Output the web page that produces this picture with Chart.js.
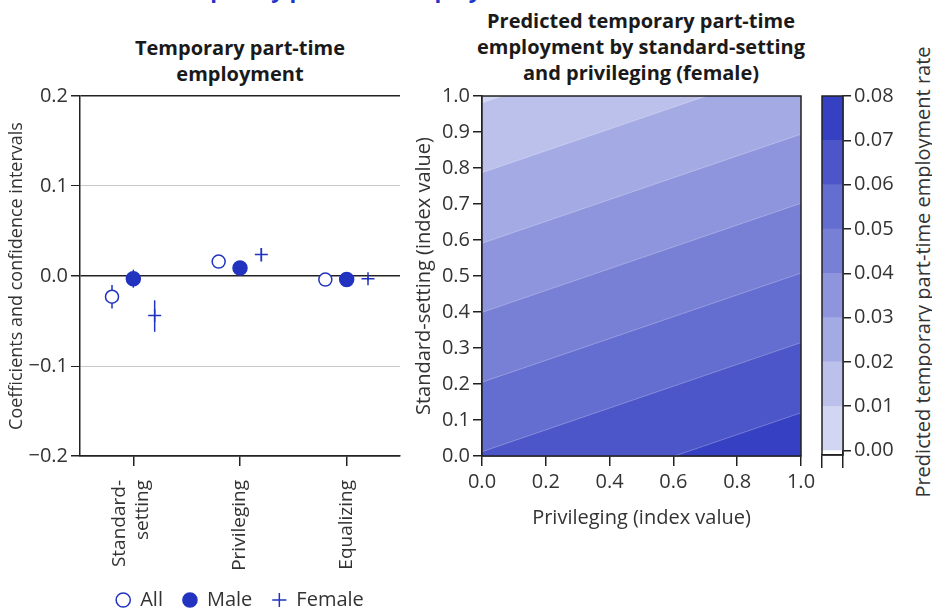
<!DOCTYPE html>
<html>
<head>
<meta charset="utf-8">
<script src="https://cdn.jsdelivr.net/npm/chart.js@4.4.0/dist/chart.umd.min.js"></script>
<style>
    body { margin: 0; width: 932px; height: 610px; background: #fff; position: relative; overflow: hidden; font-family: 'Open Sans', sans-serif; }
    canvas { position: absolute; top: 0; }
    .title { position: absolute; font-weight: bold; font-size: 20px; color: #1a1a1a; text-align: center; line-height: 26px; }
    #topTitle { left: 163px; top: -24px; font-size: 22px; color: #2433c8; white-space: nowrap; text-align: left; }
    #cbTitle { position: absolute; left: 922px; top: 272px; font-size: 20px; color: #333; white-space: nowrap; transform: translate(-50%, -50%) rotate(-90deg); }
</style>
</head>
<body>
<div class="title" id="topTitle">Temporary part-time employment</div>
<div class="title" style="left:80px; top:35px; width:320px;">Temporary part-time<br>employment</div>
<div class="title" style="left:461px; top:8px; width:360px;">Predicted temporary part-time<br>employment by standard-setting<br>and privileging (female)</div>
<div id="cbTitle">Predicted temporary part-time employment rate</div>

<canvas id="coefChart" width="410" height="620" style="left:0px;"></canvas>
<canvas id="contourChart" width="420" height="532" style="left:400px;"></canvas>
<canvas id="colorbar" width="122" height="470" style="left:810px;"></canvas>

<script>
// Left panel: coefficients with confidence intervals
const categories = [['Standard-', 'setting'], 'Privileging', 'Equalizing'];
const coefTicks = [-0.2, -0.1, 0.0, 0.1, 0.2];

const allCoef = [-0.023, 0.016, -0.004];
const allLow = [-0.036, 0.011, -0.007];
const allHigh = [-0.010, 0.021, -0.001];

const maleCoef = [-0.003, 0.009, -0.004];
const maleLow = [-0.013, 0.005, -0.008];
const maleHigh = [0.007, 0.014, 0.000];

const femaleCoef = [-0.044, 0.024, -0.003];
const femaleLow = [-0.062, 0.016, -0.005];
const femaleHigh = [-0.027, 0.031, -0.001];

// Right panel: contour boundaries (standard-setting value where the level line
// meets privileging = 0 and privileging = 1)
const levels = [0.00, 0.01, 0.02, 0.03, 0.04, 0.05, 0.06, 0.07];
const levelAtPriv0 = [1.176, 0.981, 0.787, 0.591, 0.399, 0.205, 0.012, -0.183];
const levelAtPriv1 = [1.479, 1.284, 1.090, 0.894, 0.702, 0.508, 0.315, 0.120];
const indexTicksX = [0, 0.2, 0.4, 0.6, 0.8, 1.0];
const indexTicksY = [0, 0.1, 0.2, 0.3, 0.4, 0.5, 0.6, 0.7, 0.8, 0.9, 1.0];
const colorbarTicks = [0.00, 0.01, 0.02, 0.03, 0.04, 0.05, 0.06, 0.07, 0.08];

const bandColors = ['#d3d6f3', '#bcc1ec', '#a4aae4', '#8e95dd', '#7880d6', '#646dd0', '#4c56c8', '#3541c2'];
const BLUE = '#2233c0';
const DODGE = 0.2;        // horizontal spread of the three series
const LABEL_SHIFT = 0.13; // centres the two-line category label on its tick
const INK = '#222';
const TEXT = '#333';

Chart.defaults.font.family = "'Open Sans', sans-serif";
Chart.defaults.font.size = 20;
Chart.defaults.color = TEXT;
Chart.defaults.animation = false;

const fmt1 = v => (v < -1e-9 ? '\u2212' : '') + Math.abs(v).toFixed(1);
const isStrong = v => Math.abs(v) < 1e-9 || Math.abs(v) > 0.19;

// Draw the confidence intervals under the markers
const errorBars = {
    id: 'errorBars',
    beforeDatasetsDraw(chart) {
        const ctx = chart.ctx;
        const xs = chart.scales.x, ys = chart.scales.y;
        ctx.save();
        ctx.strokeStyle = BLUE;
        ctx.lineWidth = 1.5;
        chart.data.datasets.forEach(ds => {
            ds.data.forEach((pt, i) => {
                const px = xs.getPixelForValue(pt.x);
                ctx.beginPath();
                ctx.moveTo(px, ys.getPixelForValue(ds.lows[i]));
                ctx.lineTo(px, ys.getPixelForValue(ds.highs[i]));
                ctx.stroke();
            });
        });
        ctx.restore();
    }
};

// Box around the plotting area
const frame = {
    id: 'frame',
    afterDatasetsDraw(chart) {
        const a = chart.chartArea;
        const ctx = chart.ctx;
        ctx.save();
        ctx.strokeStyle = INK;
        ctx.lineWidth = 1.5;
        ctx.strokeRect(a.left, a.top, a.right - a.left, a.bottom - a.top);
        ctx.restore();
    }
};

function makeSeries(label, values, lows, highs, offset, style) {
    return Object.assign({
        label: label,
        data: values.map((v, i) => ({ x: i + offset, y: v })),
        lows: lows,
        highs: highs,
        borderColor: BLUE,
        borderWidth: 1.5,
        pointHoverRadius: 7
    }, style);
}

new Chart(document.getElementById('coefChart'), {
    type: 'scatter',
    data: {
        datasets: [
            makeSeries('All', allCoef, allLow, allHigh, -DODGE, { pointStyle: 'circle', pointRadius: 6.5, backgroundColor: '#fff' }),
            makeSeries('Male', maleCoef, maleLow, maleHigh, 0, { pointStyle: 'circle', pointRadius: 7, backgroundColor: BLUE }),
            makeSeries('Female', femaleCoef, femaleLow, femaleHigh, DODGE, { pointStyle: 'cross', pointRadius: 6.5, backgroundColor: BLUE })
        ]
    },
    options: {
        responsive: false,
        layout: { padding: { top: 96, right: 10, left: 0, bottom: 0 } },
        plugins: {
            tooltip: { enabled: false },
            legend: {
                position: 'bottom',
                fullSize: false,
                labels: { usePointStyle: true, boxWidth: 14, boxHeight: 10, padding: 20, color: TEXT }
            }
        },
        scales: {
            x: {
                type: 'linear',
                min: -0.5,
                max: 2.5,
                weight: 0,
                afterBuildTicks: s => { s.ticks = categories.map((c, i) => ({ value: i })); },
                afterFit: s => { s.height = 10; },
                ticks: { display: false },
                grid: { drawOnChartArea: false, tickLength: 10, color: INK, lineWidth: 1.5 },
                border: { color: INK, width: 1.5 }
            },
            xLabels: {
                type: 'linear',
                axis: 'x',
                position: 'bottom',
                min: -0.5,
                max: 2.5,
                weight: 1,
                afterBuildTicks: s => {
                    s.ticks = categories.map((c, i) => ({ value: i - (Array.isArray(c) ? LABEL_SHIFT : 0) }));
                },
                afterFit: s => { s.height = 104; },
                ticks: { callback: (v, i) => categories[i], font: { size: 19 }, minRotation: 90, maxRotation: 90, autoSkip: false, padding: 6 },
                grid: { display: false },
                border: { display: false }
            },
            y: {
                min: -0.2,
                max: 0.2,
                afterBuildTicks: s => { s.ticks = coefTicks.map(v => ({ value: v })); },
                afterFit: s => { s.width = 80; },
                ticks: { callback: v => fmt1(v), padding: 3 },
                grid: {
                    tickLength: 9,
                    color: c => isStrong(c.tick.value) ? INK : '#c9c9c9',
                    tickColor: INK,
                    lineWidth: c => isStrong(c.tick.value) ? 1.5 : 1
                },
                border: { color: INK, width: 1.5 },
                title: { display: true, text: 'Coefficients and confidence intervals', font: { size: 18 }, padding: { top: 6, bottom: 0 } }
            }
        }
    },
    plugins: [errorBars]
});

// Contour: each level line filled down to the bottom, darker levels on top
new Chart(document.getElementById('contourChart'), {
    type: 'line',
    data: {
        datasets: levels.map((lv, k) => ({
            label: lv.toFixed(2),
            data: [{ x: 0, y: levelAtPriv0[k] }, { x: 1, y: levelAtPriv1[k] }],
            fill: 'start',
            backgroundColor: bandColors[k],
            borderColor: 'rgba(255,255,255,0.35)',
            borderWidth: 0.8,
            pointRadius: 0,
            order: levels.length - k
        }))
    },
    options: {
        responsive: false,
        layout: { padding: { top: 96, right: 19, left: 12, bottom: 0 } },
        plugins: { legend: { display: false }, tooltip: { enabled: false } },
        scales: {
            x: {
                type: 'linear',
                min: 0,
                max: 1,
                afterBuildTicks: s => { s.ticks = indexTicksX.map(v => ({ value: v })); },
                afterFit: s => { s.height = 532 - 456; },
                ticks: { callback: v => v.toFixed(1), padding: 4, maxRotation: 0 },
                grid: { drawOnChartArea: false, tickLength: 10, color: INK, lineWidth: 1.5 },
                border: { color: INK, width: 1.5 },
                title: { display: true, text: 'Privileging (index value)', padding: { top: 0, bottom: 2 } }
            },
            y: {
                min: 0,
                max: 1,
                afterBuildTicks: s => { s.ticks = indexTicksY.map(v => ({ value: v })); },
                afterFit: s => { s.width = 70; },
                ticks: { callback: v => v.toFixed(1), padding: 3 },
                grid: { drawOnChartArea: false, tickLength: 9, color: INK, lineWidth: 1.5 },
                border: { color: INK, width: 1.5 },
                title: { display: true, text: 'Standard-setting (index value)', padding: { top: 0, bottom: 0 } }
            }
        }
    },
    plugins: [frame]
});

// Colour bar
new Chart(document.getElementById('colorbar'), {
    type: 'bar',
    data: {
        labels: [''],
        datasets: bandColors.map((c, k) => ({
            label: colorbarTicks[k].toFixed(2),
            data: [[colorbarTicks[k], colorbarTicks[k + 1]]],
            backgroundColor: c,
            borderWidth: 0,
            barPercentage: 1,
            categoryPercentage: 1,
            grouped: false
        }))
    },
    options: {
        responsive: false,
        layout: { padding: { top: 96, right: 0, left: 12, bottom: 0 } },
        plugins: { legend: { display: false }, tooltip: { enabled: false } },
        scales: {
            x: {
                afterFit: s => { s.height = 470 - 455; },
                ticks: { display: false },
                grid: { drawOnChartArea: false, tickLength: 13, color: INK, lineWidth: 1.5, offset: true },
                border: { color: INK, width: 1.5 }
            },
            y: {
                position: 'right',
                min: -0.001,
                max: 0.08,
                afterBuildTicks: s => { s.ticks = colorbarTicks.map(v => ({ value: v })); },
                afterFit: s => { s.width = 122 - 12 - 21; },
                ticks: { callback: v => v.toFixed(2), padding: 3 },
                grid: { drawOnChartArea: false, tickLength: 8, color: INK, lineWidth: 1.5 },
                border: { color: INK, width: 1.5 }
            }
        }
    },
    plugins: [frame]
});
</script>
</body>
</html>
